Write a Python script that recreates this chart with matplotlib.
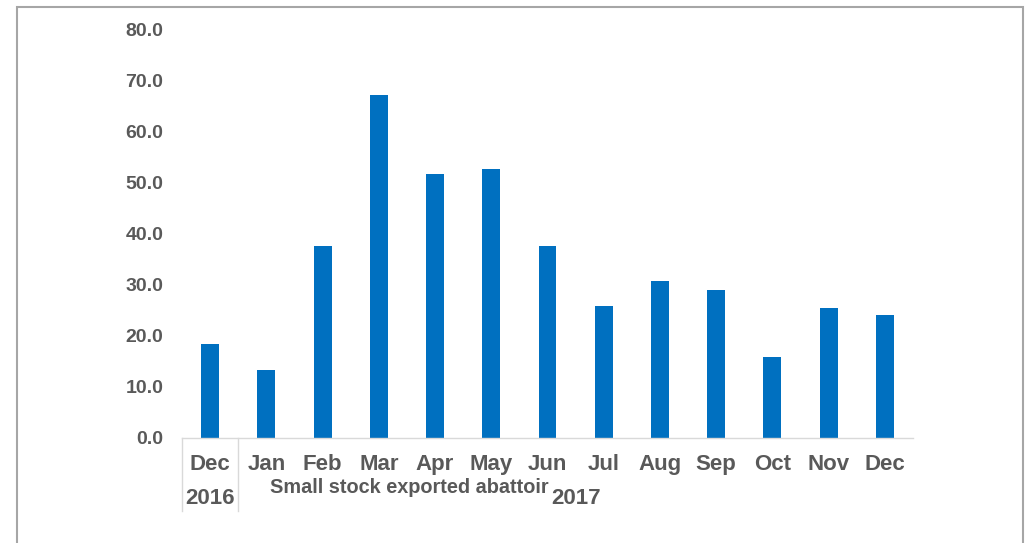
import matplotlib
matplotlib.use("Agg")
import matplotlib.pyplot as plt
from matplotlib.patches import Rectangle
from matplotlib.lines import Line2D

months = ["Dec", "Jan", "Feb", "Mar", "Apr", "May", "Jun", "Jul", "Aug", "Sep", "Oct", "Nov", "Dec"]
years = ["2016", "2017"]
year_counts = [1, 12]
values = [18.4, 13.4, 37.6, 67.3, 51.8, 52.7, 37.7, 25.8, 30.7, 29.1, 15.9, 25.4, 24.1]
series_name = "Small stock exported abattoir"
yticks = [0, 10, 20, 30, 40, 50, 60, 70, 80]

plt.rcParams['font.family'] = ['Liberation Sans', 'DejaVu Sans']
grey = "#595959"

fig = plt.figure(figsize=(10.25, 5.43), dpi=100)
ax = fig.add_axes([0.1776, 0.1934, 0.8907 - 0.1776, 0.9448 - 0.1934])

x = list(range(len(values)))
ax.bar(x, values, width=0.32, color="#0070C0")
ax.set_xlim(-0.5, len(values) - 0.5)
ax.set_ylim(0, 80)
ax.set_yticks(yticks)
ax.set_yticklabels([f"{v:.1f}" for v in yticks], fontsize=14, fontweight="bold", color=grey)
ax.tick_params(axis='y', length=0, pad=13.5)
ax.set_xticks(x)
ax.set_xticklabels(months, fontsize=16, fontweight="bold", color=grey)
ax.tick_params(axis='x', length=0, pad=11.7)
for s in ["top", "right", "left"]:
    ax.spines[s].set_visible(False)
ax.spines["bottom"].set_color("#d9d9d9")
ax.spines["bottom"].set_linewidth(1.0)

# year group separators and labels
trans = ax.get_xaxis_transform()
sep_bottom = -(511 - 438) / (438 - 30)
pos = -0.5
ax.add_line(Line2D([pos, pos], [0, sep_bottom], transform=trans, color="#d9d9d9", lw=1.0, clip_on=False))
for yr, cnt in zip(years, year_counts):
    end = pos + cnt
    if yr != years[-1]:
        ax.add_line(Line2D([end, end], [0, sep_bottom], transform=trans, color="#d9d9d9", lw=1.0, clip_on=False))
    ax.text((pos + end) / 2, -(499 - 438) / (438 - 30), yr, transform=trans, ha="center", va="center",
            fontsize=16, fontweight="bold", color=grey)
    pos = end

# series name text
fig.text(409 / 1025, 1 - 487.5 / 543, series_name, ha="center", va="center",
         fontsize=14.3, fontweight="bold", color=grey)

# outer border
fig.add_artist(Rectangle((17 / 1025, -0.05), (1023 - 17) / 1025, 1.05 - 6.5 / 543,
                         transform=fig.transFigure, fill=False, edgecolor="#a6a6a6", lw=1.5))

fig.savefig("out.png", dpi=100)
